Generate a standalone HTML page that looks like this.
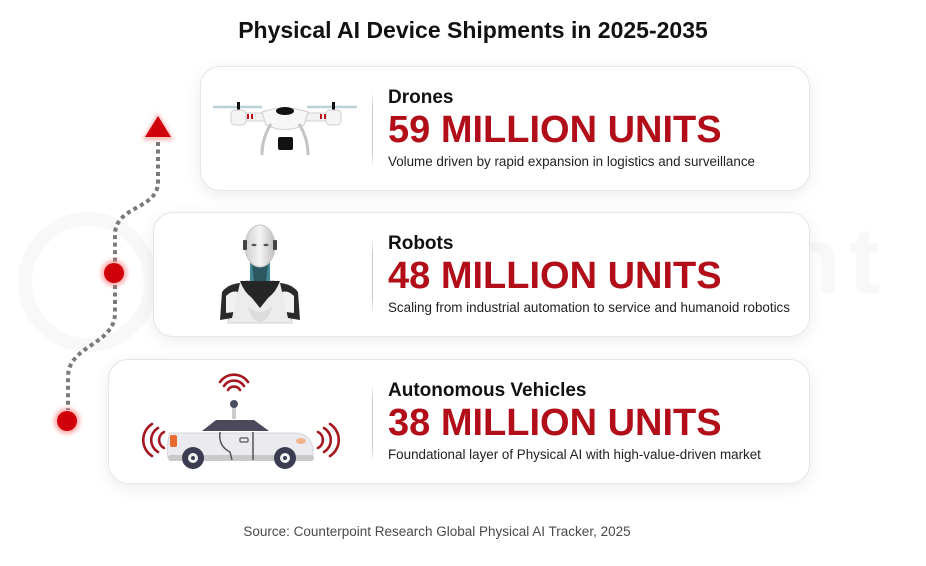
<!DOCTYPE html>
<html><head><meta charset="utf-8">
<style>
html,body{margin:0;padding:0;background:#fff;}
body{width:926px;height:566px;position:relative;overflow:hidden;font-family:"Liberation Sans",Arial,sans-serif;}
.abs{position:absolute;}
.wm{position:absolute;left:196px;top:214px;font-size:95px;font-weight:bold;color:#f8f8f8;letter-spacing:8px;line-height:1;white-space:nowrap;}
.card{position:absolute;background:rgba(255,255,255,0.88);border:1px solid #e6e6e6;border-radius:20px;box-shadow:0 4px 16px rgba(0,0,0,0.08);height:123px;}
.div{position:absolute;left:372px;width:1px;height:76px;background:linear-gradient(#fff,#c8c8c8 20%,#c8c8c8 80%,#fff);}
.h{position:absolute;left:388px;font-size:19px;font-weight:bold;color:#111;line-height:19px;white-space:nowrap;}
.big{position:absolute;left:388px;font-size:38px;font-weight:bold;color:#b10e1a;line-height:38px;white-space:nowrap;}
.sub{position:absolute;left:388px;font-size:13.4px;color:#222;line-height:13px;white-space:nowrap;}
</style></head><body>
<div class="abs" style="left:18px;top:212px;width:112px;height:112px;border-radius:50%;border:14px solid #f8f8f8;"></div>
<div class="wm">Counterpoint</div>

<div class="abs" style="left:0;width:926px;top:19px;text-align:center;font-size:23px;font-weight:bold;color:#111;line-height:23px;"><span style="position:relative;left:10px">Physical AI Device Shipments in 2025-2035</span></div>

<div class="card" style="left:200px;top:66px;width:608px;"></div>
<div class="card" style="left:153px;top:212px;width:655px;"></div>
<div class="card" style="left:108px;top:359px;width:700px;"></div>

<div class="div" style="top:92px"></div>
<div class="div" style="top:238px"></div>
<div class="div" style="top:385px"></div>

<div class="h" style="top:88px">Drones</div>
<div class="big" style="top:111px">59 MILLION UNITS</div>
<div class="sub" style="top:155px">Volume driven by rapid expansion in logistics and surveillance</div>

<div class="h" style="top:234px">Robots</div>
<div class="big" style="top:257px">48 MILLION UNITS</div>
<div class="sub" style="top:301px">Scaling from industrial automation to service and humanoid robotics</div>

<div class="h" style="top:381px">Autonomous Vehicles</div>
<div class="big" style="top:404px">38 MILLION UNITS</div>
<div class="sub" style="top:448px">Foundational layer of Physical AI with high-value-driven market</div>

<div class="abs" style="left:0;width:926px;top:525px;text-align:center;font-size:13.5px;color:#4a4a4a;line-height:14px;"><span style="position:relative;left:-26px">Source: Counterpoint Research Global Physical AI Tracker, 2025</span></div>

<svg class="abs" style="left:0;top:0" width="926" height="566" viewBox="0 0 926 566">
<defs>
<filter id="gl" x="-1" y="-1" width="3" height="3"><feGaussianBlur stdDeviation="2"/></filter>
<linearGradient id="hd" x1="0" x2="1"><stop offset="0" stop-color="#cfcfcf"/><stop offset="0.5" stop-color="#f4f4f4"/><stop offset="1" stop-color="#bdbdbd"/></linearGradient>
</defs>
<path d="M158,142 L158,182 C158,210 115,205 115,235 L115,262" fill="none" stroke="#7a7a7a" stroke-width="4" stroke-dasharray="4 3.5"/>
<path d="M115,285 L115,313 C115,345 68,345 68,377 L68,410" fill="none" stroke="#7a7a7a" stroke-width="4" stroke-dasharray="4 3.5"/>
<polygon points="158,113 142,140 174,140" fill="#ff6b6b" opacity="0.5" filter="url(#gl)"/>
<polygon points="158,116 145,137 171,137" fill="#d0000b"/>
<circle cx="114" cy="273" r="13" fill="#ff6b6b" opacity="0.55" filter="url(#gl)"/>
<circle cx="114" cy="273" r="10" fill="#d0000b"/>
<circle cx="67" cy="421" r="13" fill="#ff6b6b" opacity="0.55" filter="url(#gl)"/>
<circle cx="67" cy="421" r="10" fill="#d0000b"/>

<g>
<line x1="213" y1="107" x2="262" y2="107" stroke="#b9d2da" stroke-width="2.5"/>
<line x1="307" y1="107" x2="357" y2="107" stroke="#b9d2da" stroke-width="2.5"/>
<rect x="237" y="102" width="3" height="9" fill="#111"/>
<rect x="332" y="102" width="3" height="9" fill="#111"/>
<rect x="240" y="113" width="92" height="8" rx="3" fill="#f2f2f2" stroke="#d0d0d0" stroke-width="1"/>
<rect x="231" y="110" width="15" height="15" rx="4" fill="#f4f4f4" stroke="#cfcfcf"/>
<rect x="326" y="110" width="15" height="15" rx="4" fill="#f4f4f4" stroke="#cfcfcf"/>
<rect x="247" y="114" width="2" height="5" fill="#c0121c"/><rect x="251" y="114" width="2" height="5" fill="#c0121c"/>
<rect x="320" y="114" width="2" height="5" fill="#c0121c"/><rect x="324" y="114" width="2" height="5" fill="#c0121c"/>
<path d="M262,112 Q285,104 308,112 L304,125 Q285,134 266,125 Z" fill="#f7f7f7" stroke="#cfcfcf"/>
<ellipse cx="285" cy="111" rx="9" ry="4" fill="#111"/>
<path d="M271,124 Q262,138 262,155" fill="none" stroke="#c4c4c4" stroke-width="3"/>
<path d="M299,124 Q308,138 308,155" fill="none" stroke="#c4c4c4" stroke-width="3"/>
<rect x="278" y="137" width="15" height="13" rx="2" fill="#111"/>
</g>

<g>
<path d="M232,292 Q236,282 250,280 L270,280 Q284,282 288,292 L292,323 L228,323 Z" fill="#ececec" stroke="#cfcfcf"/>
<path d="M222,292 Q228,284 240,283 L236,300 L232,318 L220,320 Z" fill="#2a2a2a"/>
<path d="M298,292 Q292,284 280,283 L284,300 L288,318 L300,320 Z" fill="#2a2a2a"/>
<path d="M226,296 Q232,290 238,292 L234,312 L226,313 Z" fill="#f1f1f1"/>
<path d="M294,296 Q288,290 282,292 L286,312 L294,313 Z" fill="#f1f1f1"/>
<rect x="250" y="262" width="20" height="20" fill="#3f8894"/>
<path d="M252,264 L268,264 L266,282 L254,282 Z" fill="#1f3a40" opacity="0.6"/>
<path d="M240,281 L280,281 Q276,292 268,298 L260,308 L252,298 Q244,292 240,281 Z" fill="#262626"/>
<path d="M248,306 Q260,318 272,306 Q270,320 260,322 Q250,320 248,306 Z" fill="#dcdcdc"/>
<ellipse cx="260" cy="246" rx="15" ry="21" fill="url(#hd)" stroke="#c4c4c4"/>
<rect x="243" y="240" width="4" height="10" rx="1" fill="#444"/>
<rect x="273" y="240" width="4" height="10" rx="1" fill="#444"/>
<ellipse cx="254" cy="245" rx="2.5" ry="1.2" fill="#555"/>
<ellipse cx="266" cy="245" rx="2.5" ry="1.2" fill="#555"/>
</g>

<g fill="none" stroke="#a5161f" stroke-width="2.6" stroke-linecap="round">
<path d="M228,390 A7,7 0 0 1 240,390"/>
<path d="M224,386 A12,12 0 0 1 244,386"/>
<path d="M220,382 A17,17 0 0 1 248,382"/>
<path d="M164,432 A9,9 0 0 0 164,448"/>
<path d="M158,428 A14,14 0 0 0 158,452"/>
<path d="M152,424 A19,19 0 0 0 152,456"/>
<path d="M318,432 A9,9 0 0 1 318,448"/>
<path d="M324,428 A14,14 0 0 1 324,452"/>
<path d="M330,424 A19,19 0 0 1 330,456"/>
</g>
<g>
<rect x="232" y="405" width="4" height="14" fill="#ccc"/>
<circle cx="234" cy="404" r="4" fill="#4a4d5e"/>
<path d="M202,431 L216,420 L254,420 L269,431 Z" fill="#4b4a5c"/>
<path d="M170,433 L298,433 Q310,435 313,448 L313,458 L168,458 Q166,445 170,433 Z" fill="#ebeaee" stroke="#d6d6da"/>
<rect x="168" y="455" width="146" height="6" rx="3" fill="#c9c9cc"/>
<rect x="170" y="435" width="7" height="12" rx="2" fill="#e86a2c"/>
<ellipse cx="301" cy="441" rx="5" ry="3" fill="#f1b58e"/>
<path d="M220,432 Q218,446 230,452 L232,460" fill="none" stroke="#555" stroke-width="1.5"/>
<line x1="253" y1="432" x2="253" y2="460" stroke="#555" stroke-width="1.5"/>
<rect x="240" y="438" width="8" height="4" rx="1" fill="none" stroke="#555" stroke-width="1.2"/>
<circle cx="193" cy="458" r="11" fill="#3b3c52"/>
<circle cx="193" cy="458" r="5" fill="#f2f2f2"/>
<circle cx="193" cy="458" r="2" fill="#3b3c52"/>
<circle cx="285" cy="458" r="11" fill="#3b3c52"/>
<circle cx="285" cy="458" r="5" fill="#f2f2f2"/>
<circle cx="285" cy="458" r="2" fill="#3b3c52"/>
</g>
</svg>
</body></html>
